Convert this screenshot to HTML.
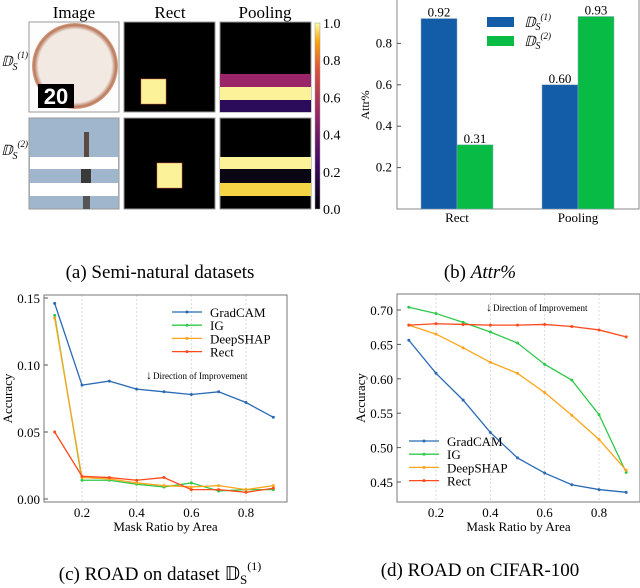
<!DOCTYPE html>
<html><head><meta charset="utf-8"><style>
body{margin:0;background:#fff}
svg{display:block;font-family:"Liberation Serif",serif}
</style></head><body>
<svg width="640" height="588" viewBox="0 0 640 588">
<defs>
<linearGradient id="cb" x1="0" y1="1" x2="0" y2="0">
<stop offset="0" stop-color="#000004"/><stop offset="0.25" stop-color="#420a68"/><stop offset="0.5" stop-color="#932667"/><stop offset="0.75" stop-color="#dd513a"/><stop offset="0.9" stop-color="#fca50a"/><stop offset="1" stop-color="#fcffa4"/>
</linearGradient>
<radialGradient id="plate" cx="0.5" cy="0.5" r="0.5"><stop offset="0.85" stop-color="#f1e9e2"/><stop offset="0.95" stop-color="#b9785a"/><stop offset="1" stop-color="#d9a58a"/></radialGradient>
</defs>
<!-- panel a -->
<g>
<text x="74" y="18" font-size="17" text-anchor="middle">Image</text>
<text x="170" y="18" font-size="17" text-anchor="middle">Rect</text>
<text x="265" y="18" font-size="17" text-anchor="middle">Pooling</text>
<rect x="29" y="22" width="90" height="90" fill="#fdfdfd" stroke="#999"/>
<circle cx="75" cy="66" r="43" fill="url(#plate)"/>
<rect x="38" y="84" width="36" height="24" fill="#000"/>
<text x="56" y="104" font-family="Liberation Sans,sans-serif" font-weight="bold" font-size="22" fill="#fff" text-anchor="middle">20</text>
<rect x="29" y="118" width="90" height="91" fill="#9fb6cc" stroke="#999"/>
<rect x="30" y="157" width="88" height="12" fill="#fff"/><rect x="30" y="183" width="88" height="13" fill="#fff"/>
<rect x="84" y="132" width="5" height="25" fill="#5a4a40"/><rect x="81" y="169" width="10" height="14" fill="#3a3a3a"/><rect x="83" y="196" width="7" height="13" fill="#555"/>
<text x="1" y="66" font-size="14" font-style="italic">𝔻<tspan font-size="10" dy="4">S</tspan><tspan font-size="9" dy="-12">(1)</tspan></text>
<text x="1" y="155" font-size="14" font-style="italic">𝔻<tspan font-size="10" dy="4">S</tspan><tspan font-size="9" dy="-12">(2)</tspan></text>
<rect x="124" y="22" width="91" height="90" fill="#000" stroke="#999"/>
<rect x="141" y="79" width="25" height="25" fill="#fcf29a" stroke="#e07050" stroke-width="0.5"/>
<rect x="124" y="118" width="91" height="91" fill="#000" stroke="#999"/>
<rect x="157" y="163" width="25" height="25" fill="#fcf29a" stroke="#e07050" stroke-width="0.5"/>
<rect x="220" y="22" width="91" height="90" fill="#000" stroke="#999"/>
<rect x="220" y="74" width="91" height="13" fill="#9a2569"/><rect x="220" y="87" width="91" height="13" fill="#fcf29a"/><rect x="220" y="100" width="91" height="12" fill="#2a0c5a"/>
<rect x="220" y="118" width="91" height="91" fill="#000" stroke="#999"/>
<rect x="220" y="157" width="91" height="12" fill="#fcf29a"/><rect x="220" y="169" width="91" height="14" fill="#0a0614"/><rect x="220" y="183" width="91" height="13" fill="#f3d545"/>
<rect x="315" y="23" width="5" height="186" fill="url(#cb)" stroke="#999" stroke-width="0.5"/>
</g>
<text x="160" y="278" font-size="19" text-anchor="middle">(a) Semi-natural datasets</text>
<text x="480" y="278" font-size="19" text-anchor="middle">(b) <tspan font-style="italic">Attr%</tspan></text>
<text x="160" y="580" font-size="19" text-anchor="middle">(c) ROAD on dataset 𝔻<tspan font-size="13" dy="4">S</tspan><tspan font-size="12" dy="-14">(1)</tspan></text>
<text x="480" y="576" font-size="19" text-anchor="middle">(d) ROAD on CIFAR-100</text>
<g id="bars"></g>
<g id="c"></g>
<g id="d"></g>
</svg>
<script>
const NS="http://www.w3.org/2000/svg";
const barCats=["Rect","Pooling"];
const barD1=[0.92,0.60];
const barD2=[0.31,0.93];
const barTicks=[0.2,0.4,0.6,0.8];
const cbTicks=[0.0,0.2,0.4,0.6,0.8,1.0];
const xs=[0.1,0.2,0.3,0.4,0.5,0.6,0.7,0.8,0.9];
const xTicks=[0.2,0.4,0.6,0.8];
const cGrad=[0.146,0.085,0.088,0.082,0.080,0.078,0.080,0.072,0.061];
const cIG=[0.137,0.014,0.014,0.011,0.009,0.012,0.006,0.007,0.007];
const cDS=[0.135,0.016,0.015,0.012,0.010,0.009,0.010,0.007,0.010];
const cRect=[0.050,0.017,0.016,0.014,0.016,0.007,0.007,0.005,0.008];
const cYTicks=[0.00,0.05,0.10,0.15];
const dGrad=[0.656,0.608,0.569,0.522,0.485,0.463,0.446,0.439,0.435];
const dIG=[0.704,0.695,0.682,0.668,0.652,0.621,0.598,0.548,0.464];
const dDS=[0.678,0.665,0.645,0.624,0.608,0.580,0.547,0.512,0.467];
const dRect=[0.678,0.680,0.679,0.678,0.678,0.679,0.676,0.671,0.661];
const dYTicks=[0.45,0.50,0.55,0.60,0.65,0.70];
const names=["GradCAM","IG","DeepSHAP","Rect"];
const cols=["#2a6ab5","#2fc94a","#ffa41b","#ff4a1c"];
function mk(p,t,a,txt){const e=document.createElementNS(NS,t);for(const k in a)e.setAttribute(k,a[k]);if(txt!==undefined)e.textContent=txt;p.appendChild(e);return e;}
const svg=document.querySelector('svg');
cbTicks.forEach(v=>{const y=209-v*186;const t=mk(svg,'text',{x:323,y:y+5,'font-size':14},v.toFixed(1));

});
{const g=document.getElementById('bars');const y=v=>209-v*207;
mk(g,'rect',{x:397,y:-1,width:242,height:210,fill:'none',stroke:'#888'});
barTicks.forEach(v=>{const t=mk(g,'text',{x:392,y:y(v)+4,'font-size':13,'text-anchor':'end'},v.toFixed(1));


mk(g,'line',{x1:397,x2:401,y1:y(v),y2:y(v),stroke:'#555'});});
const lab=mk(g,'text',{transform:'translate(369,105) rotate(-90)','font-size':12,'text-anchor':'middle'},'Attr%');


const cx=[457,578];
barCats.forEach((c,i)=>{[[barD1[i],'#135ca8',-36],[barD2[i],'#08bb45',0]].forEach(([v,col,off],j)=>{
const r=mk(g,'rect',{x:cx[i]+off,y:y(v),width:36,height:209-y(v),fill:col,stroke:'#8ab',"stroke-width":0.5});


const t=mk(g,'text',{x:cx[i]+off+18,y:y(v)-2,'font-size':13,'text-anchor':'middle'},v.toFixed(2));

});
const t=mk(g,'text',{x:cx[i],y:222,'font-size':13,'text-anchor':'middle'},c);

});
[['#135ca8',23,'(1)'],['#08bb45',42,'(2)']].forEach(([col,yy,s])=>{mk(g,'rect',{x:487,y:yy-6,width:27,height:10,fill:col});
const t=mk(g,'text',{x:524,y:yy+4,'font-size':14,'font-style':'italic'});t.innerHTML='𝔻<tspan font-size="10" dy="3">S</tspan><tspan font-size="9" dy="-10">'+s+'</tspan>';

});}
function lineChart(id,L,R,T,B,x0,x1,px0,px1,y0,y1,py0,py1,yTicks,dec,series,legX,legY,dirX,dirY){
const g=document.getElementById(id);
const X=v=>px0+(v-x0)/(x1-x0)*(px1-px0),Y=v=>py0+(v-y0)/(y1-y0)*(py1-py0);
xTicks.forEach(v=>{mk(g,'line',{x1:X(v),x2:X(v),y1:T,y2:B,stroke:'#ccc','stroke-dasharray':'2,2','stroke-width':0.7});
const t=mk(g,'text',{x:X(v),y:B+15,'font-size':13,'text-anchor':'middle'},v.toFixed(1));

});
mk(g,'rect',{x:L,y:T,width:R-L,height:B-T,fill:'none',stroke:'#777'});
yTicks.forEach(v=>{const t=mk(g,'text',{x:L-4,y:Y(v)+5,'font-size':13,'text-anchor':'end'},v.toFixed(dec));


mk(g,'line',{x1:L,x2:L+4,y1:Y(v),y2:Y(v),stroke:'#555'});});
const xt=mk(g,'text',{x:(L+R)/2,y:B+29,'font-size':13,'text-anchor':'middle'},'Mask Ratio by Area');


const yt=mk(g,'text',{transform:`translate(${L-32},${(T+B)/2}) rotate(-90)`,'font-size':13,'text-anchor':'middle'},'Accuracy');


series.forEach((s,k)=>{const pl=mk(g,'polyline',{points:xs.map((x,i)=>X(x)+','+Y(s[i])).join(' '),fill:'none',stroke:cols[k],'stroke-width':1.3});


xs.forEach((x,i)=>mk(g,'circle',{cx:X(x),cy:Y(s[i]),r:1.5,fill:cols[k]}));
const ly=legY+k*13.2;mk(g,'line',{x1:legX,x2:legX+30,y1:ly,y2:ly,stroke:cols[k],'stroke-width':1.3});mk(g,'circle',{cx:legX+15,cy:ly,r:1.5,fill:cols[k]});
const t=mk(g,'text',{x:legX+38,y:ly+5,'font-size':13},names[k]);

});
mk(g,'text',{x:dirX-4,y:dirY+4,'font-size':12},'↓');
const d=mk(g,'text',{x:dirX+3,y:dirY+4,'font-size':9},'Direction of Improvement');

}
lineChart('c',44,287,295,502,0.2,0.8,82,246,0,0.15,499,298,cYTicks,2,[cGrad,cIG,cDS,cRect],172,312,150,375);
lineChart('d',397,640,294,502,0.2,0.8,436,599,0.45,0.70,482,310,dYTicks,2,[dGrad,dIG,dDS,dRect],409,441,490,307);
</script>
</body></html>
